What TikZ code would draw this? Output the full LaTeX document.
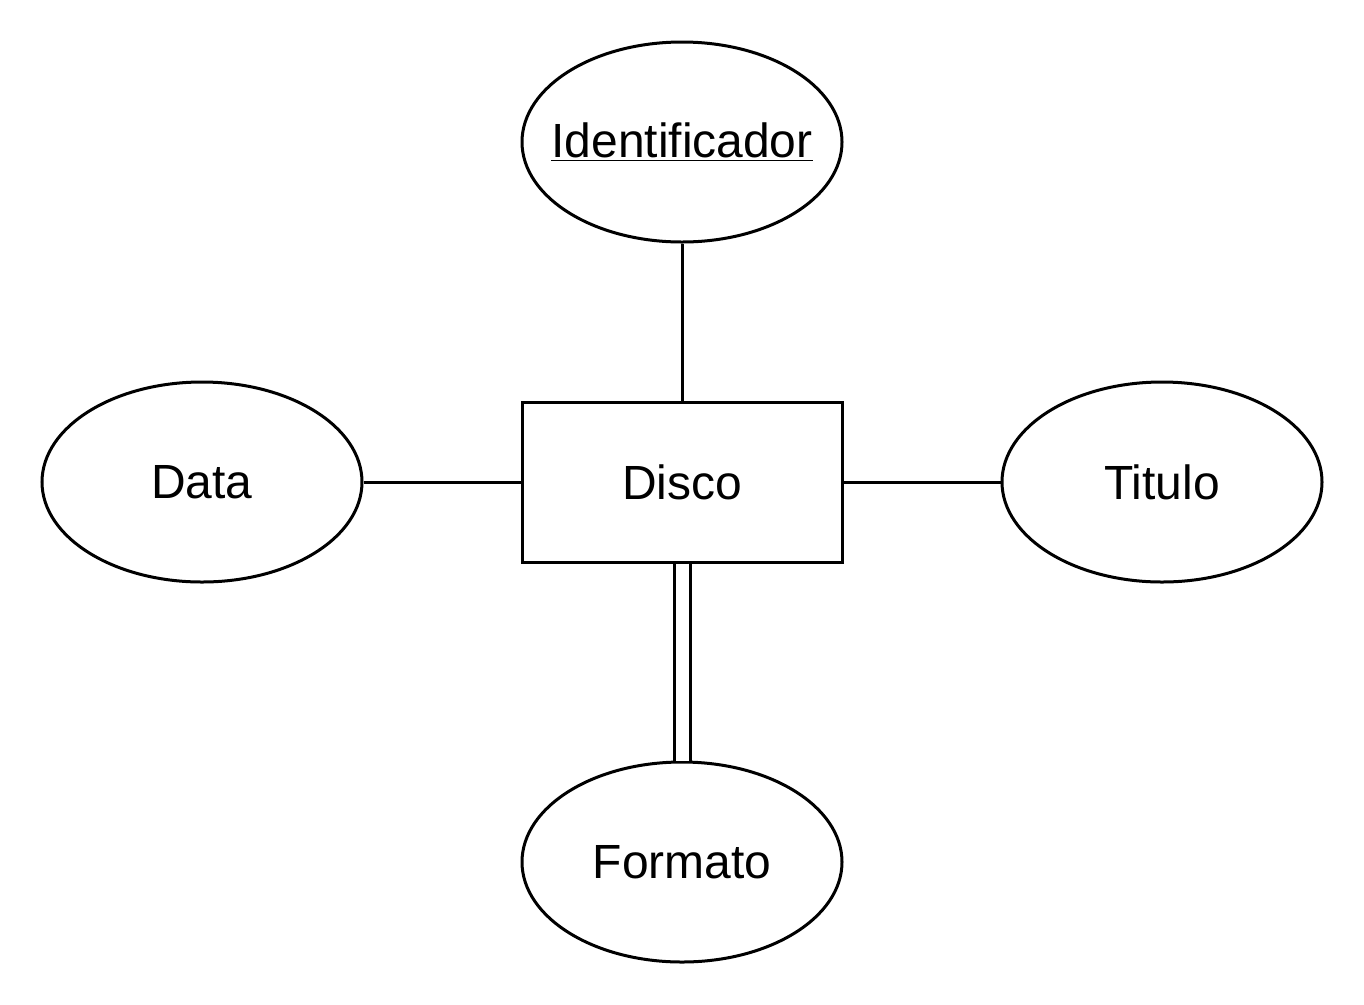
\documentclass[tikz,border=0pt]{standalone}
\usepackage{fontspec}
\setmainfont{Liberation Sans}
\usetikzlibrary{shapes.geometric}

\tikzset{
    attr/.style={draw, ellipse, line width=0.06cm, minimum width=6.4cm, minimum height=4cm, inner sep=0pt},
    entity/.style={draw, rectangle, line width=0.06cm, minimum width=6.4cm, minimum height=3.2cm, inner sep=0pt},
    link/.style={line width=0.06cm}
}

\begin{document}
\begin{tikzpicture}[font=\fontsize{27.3pt}{32pt}\selectfont]
            \useasboundingbox (0, 0) rectangle (27.28, -20.08);

            \node[entity] (disco) at (13.64, -9.64) {Disco};

            \node[attr] (ident) at (13.64, -2.84) {\makebox[0pt]{\underline{Identificador}}};
            \node[attr] (data) at (4.04, -9.64) {Data};
            \node[attr] (titulo) at (23.24, -9.64) {Titulo};
            \node[attr] (formato) at (13.64, -17.24) {Formato};

            \draw[link] (ident) -- (disco);
            \draw[link] (data) -- (disco);
            \draw[link] (disco) -- (titulo);
            \draw[link, double, double distance=0.26cm] (disco) -- (formato);
        \end{tikzpicture}
\end{document}
